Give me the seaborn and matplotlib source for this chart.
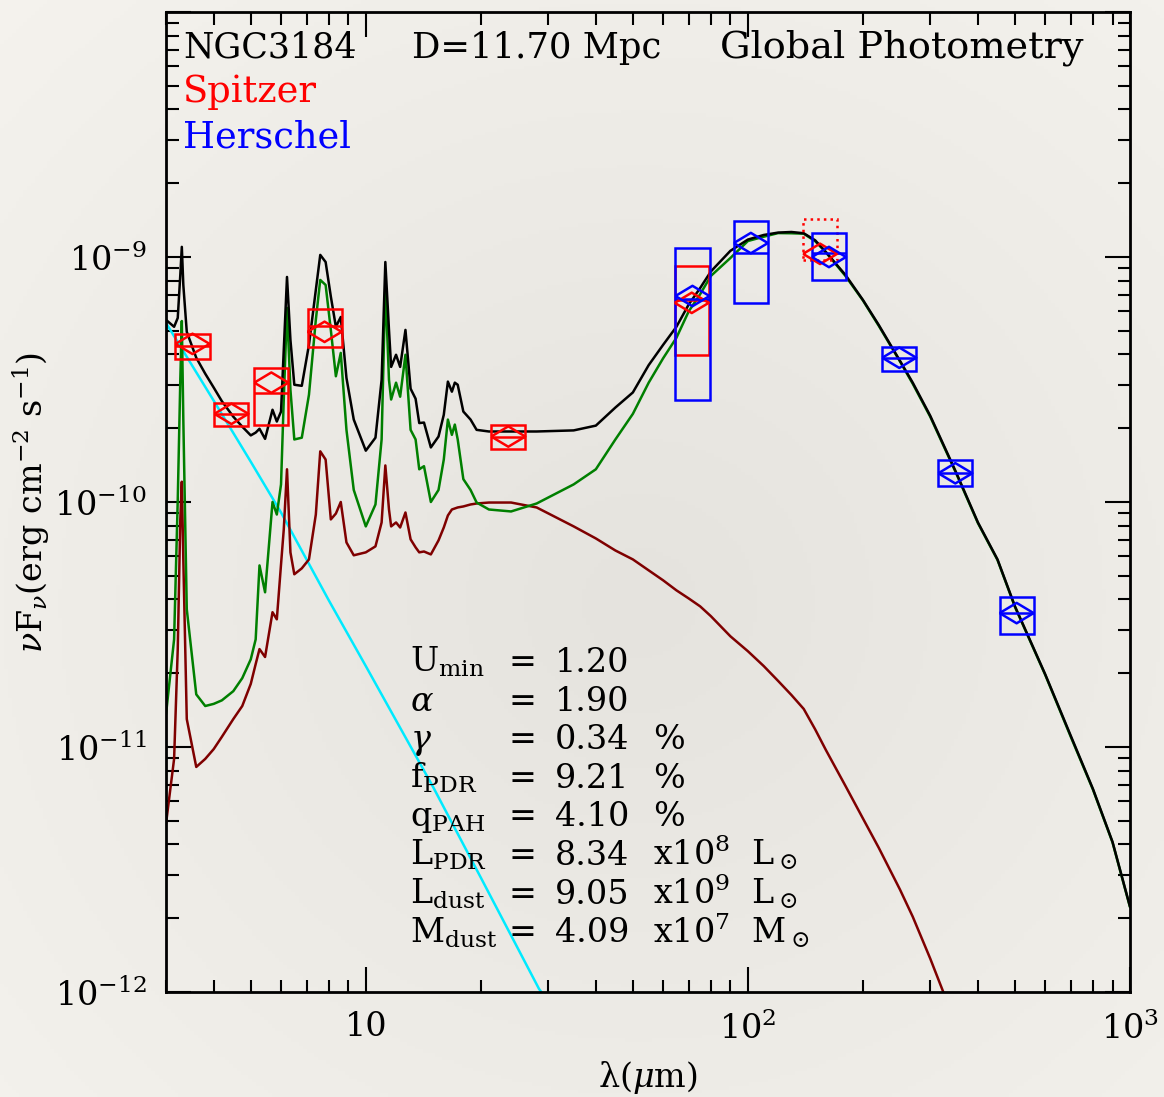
import numpy as np
import matplotlib
matplotlib.use("Agg")
import matplotlib.pyplot as plt
import seaborn as sns
from matplotlib.patches import Rectangle
from matplotlib.ticker import LogLocator, NullFormatter, FixedLocator, FixedFormatter

sns.set_style("ticks")
plt.rcParams["font.family"] = ["DejaVu Serif"]
plt.rcParams["mathtext.fontset"] = "dejavuserif"
plt.rcParams["text.color"] = "black"
plt.rcParams["axes.labelcolor"] = "black"
plt.rcParams["xtick.color"] = "black"
plt.rcParams["ytick.color"] = "black"

# ---------------- model spectra (wavelength in micron, nuFnu in erg cm^-2 s^-1) -------------
lam_model = [3.0, 3.15, 3.22, 3.27, 3.3, 3.33, 3.4, 3.6,
             3.8, 4.0, 4.2, 4.5, 4.75, 5.0, 5.15, 5.27,
             5.45, 5.7, 5.85, 6.0, 6.1, 6.22, 6.35, 6.5,
             6.8, 7.1, 7.4, 7.6, 7.85, 8.1, 8.35, 8.6,
             8.9, 9.3, 10.0, 10.6, 11.0, 11.25, 11.5, 11.65,
             12.0, 12.3, 12.7, 13.1, 13.5, 13.8, 14.2, 14.8,
             15.5, 16.0, 16.4, 16.8, 17.1, 17.4, 18.0, 18.8,
             19.5, 21, 24, 28, 35, 40, 45, 50,
             55, 60, 65, 70, 75, 80, 90, 100,
             110, 120, 130, 140, 150, 160, 180, 200,
             220, 250, 270, 300, 350, 400, 450, 500,
             600, 700, 800, 900, 1000]

f_total = [5.54e-10, 5.19e-10, 5.64e-10, 8.45e-10, 1.10e-9, 7.69e-10, 4.95e-10, 3.88e-10,
           3.34e-10, 2.93e-10, 2.58e-10, 2.23e-10, 2.03e-10, 1.87e-10, 1.92e-10, 1.99e-10,
           1.81e-10, 2.38e-10, 2.13e-10, 2.34e-10, 4.18e-10, 8.29e-10, 4.59e-10, 3.01e-10,
           2.98e-10, 4.38e-10, 7.34e-10, 1.02e-9, 9.54e-10, 6.90e-10, 5.19e-10, 5.69e-10,
           3.21e-10, 2.17e-10, 1.62e-10, 1.83e-10, 3.15e-10, 9.54e-10, 5.04e-10, 3.56e-10,
           3.99e-10, 3.56e-10, 5.04e-10, 2.90e-10, 2.64e-10, 2.10e-10, 2.11e-10, 1.67e-10,
           1.85e-10, 2.27e-10, 3.10e-10, 2.82e-10, 3.07e-10, 3.01e-10, 2.34e-10, 2.17e-10,
           1.97e-10, 1.94e-10, 1.94e-10, 1.94e-10, 1.96e-10, 2.05e-10, 2.43e-10, 2.80e-10,
           3.62e-10, 4.38e-10, 5.19e-10, 6.40e-10, 7.47e-10, 8.73e-10, 1.06e-9, 1.178e-9,
           1.23e-9, 1.258e-9, 1.265e-9, 1.25e-9, 1.17e-9, 1.048e-9, 8.45e-10, 6.68e-10,
           5.28e-10, 3.77e-10, 3.07e-10, 2.25e-10, 1.33e-10, 8.25e-11, 5.83e-11, 3.75e-11,
           1.98e-11, 1.11e-11, 6.74e-12, 4.10e-12, 2.23e-12]

f_diffuse = [1.36e-11, 2.75e-11, 1.02e-10, 3.15e-10, 5.48e-10, 2.17e-10, 3.65e-11, 1.64e-11,
             1.47e-11, 1.50e-11, 1.55e-11, 1.69e-11, 1.91e-11, 2.28e-11, 2.75e-11, 5.51e-11,
             4.28e-11, 1.00e-10, 8.89e-11, 1.18e-10, 2.62e-10, 6.20e-10, 2.87e-10, 1.80e-10,
             1.83e-10, 2.74e-10, 5.54e-10, 8.06e-10, 7.69e-10, 5.04e-10, 3.26e-10, 4.06e-10,
             1.97e-10, 1.12e-10, 7.95e-11, 9.77e-11, 1.80e-10, 7.69e-10, 3.15e-10, 2.62e-10,
             3.07e-10, 2.69e-10, 3.99e-10, 1.97e-10, 1.80e-10, 1.36e-10, 1.40e-10, 1.00e-10,
             1.12e-10, 1.49e-10, 2.17e-10, 1.88e-10, 2.07e-10, 1.80e-10, 1.24e-10, 1.12e-10,
             9.95e-11, 9.32e-11, 9.15e-11, 9.86e-11, 1.18e-10, 1.36e-10, 1.80e-10, 2.29e-10,
             3.07e-10, 3.86e-10, 4.68e-10, 6.00e-10, 7.05e-10, 8.37e-10, 9.91e-10, 1.162e-9,
             1.21e-9, 1.252e-9, 1.25e-9, 1.245e-9, 1.16e-9, 1.045e-9, 8.37e-10, 6.65e-10,
             5.24e-10, 3.75e-10, 3.04e-10, 2.23e-10, 1.32e-10, 8.20e-11, 5.80e-11, 3.73e-11,
             1.97e-11, 1.10e-11, 6.70e-12, 4.08e-12, 2.22e-12]

lam_pdr = lam_model[:lam_model.index(350) + 1]
f_pdr = [4.86e-12, 8.94e-12, 2.51e-11, 8.49e-11, 1.21e-10, 5.83e-11, 1.30e-11, 8.29e-12,
         8.94e-12, 9.81e-12, 1.10e-11, 1.30e-11, 1.47e-11, 1.81e-11, 2.18e-11, 2.51e-11,
         2.33e-11, 3.55e-11, 3.32e-11, 5.56e-11, 7.73e-11, 1.36e-10, 6.23e-11, 5.07e-11,
         5.36e-11, 5.83e-11, 8.89e-11, 1.61e-10, 1.49e-10, 8.49e-11, 8.97e-11, 1.00e-10,
         6.84e-11, 6.06e-11, 6.23e-11, 6.59e-11, 8.25e-11, 1.41e-10, 9.32e-11, 7.95e-11,
         8.25e-11, 7.87e-11, 9.06e-11, 7.04e-11, 6.53e-11, 6.23e-11, 6.28e-11, 6.11e-11,
         6.97e-11, 7.87e-11, 8.81e-11, 9.32e-11, 9.41e-11, 9.50e-11, 9.59e-11, 9.77e-11,
         9.86e-11, 9.95e-11, 9.95e-11, 9.50e-11, 7.95e-11, 7.10e-11, 6.34e-11, 5.83e-11,
         5.26e-11, 4.79e-11, 4.36e-11, 4.04e-11, 3.75e-11, 3.42e-11, 2.83e-11, 2.46e-11,
         2.14e-11, 1.86e-11, 1.63e-11, 1.43e-11, 1.18e-11, 9.72e-12, 6.94e-12, 5.11e-12,
         3.88e-12, 2.62e-12, 2.03e-12, 1.37e-12, 7.4e-13]

lam_stars = [3.0, 4.0, 5.0, 6.0, 8.0, 10.0, 15.0, 20.0, 28.4, 30.0]
f_stars = [5.38e-10, 2.59e-10, 1.46e-10, 9.06e-11, 3.97e-11, 2.14e-11, 6.87e-12, 2.93e-12,
           1.03e-12, 9.15e-13]

# ---------------- photometry ----------------
spitzer_lam = [3.52, 4.45, 5.66, 7.80, 23.6, 71.3]
spitzer_flux = [4.42e-10, 2.29e-10, 3.07e-10, 4.95e-10, 1.85e-10, 6.50e-10]
spitzer_lo = [3.85e-10, 2.05e-10, 2.07e-10, 4.30e-10, 1.64e-10, 3.99e-10]
spitzer_hi = [4.85e-10, 2.54e-10, 3.53e-10, 6.14e-10, 2.07e-10, 9.19e-10]
spitzer_model = [4.33e-10, 2.29e-10, 2.79e-10, 5.24e-10, 1.85e-10, 6.68e-10]

mips160_lam = [154.5]
mips160_flux = [1.03e-9]
mips160_lo = [9.72e-10]
mips160_hi = [1.43e-9]

herschel_lam = [71.6, 101.8, 163.0, 249.0, 349.0, 505.0]
herschel_flux = [6.93e-10, 1.14e-9, 1.00e-9, 3.88e-10, 1.31e-10, 3.52e-11]
herschel_lo = [2.62e-10, 6.50e-10, 8.05e-10, 3.43e-10, 1.16e-10, 2.88e-11]
herschel_hi = [1.09e-9, 1.40e-9, 1.25e-9, 4.30e-10, 1.48e-10, 4.08e-11]
herschel_model = [6.75e-10, 1.04e-9, 1.04e-9, 3.88e-10, 1.31e-10, 3.52e-11]

header_texts = ["NGC3184", "D=11.70 Mpc", "Global Photometry"]
stat_labels = [r"U$_{\rm min}$", r"$\alpha$", r"$\gamma$", r"f$_{\rm PDR}$",
               r"q$_{\rm PAH}$", r"L$_{\rm PDR}$", r"L$_{\rm dust}$", r"M$_{\rm dust}$"]
stat_values = ["1.20", "1.90", "0.34", "9.21", "4.10", "8.34", "9.05", "4.09"]
stat_units = ["", "", "%", "%", "%", r"x10$^8$  L$_\odot$", r"x10$^9$  L$_\odot$",
              r"x10$^7$  M$_\odot$"]

# ---------------- figure ----------------
W, H = 1164, 1097
fig = plt.figure(figsize=(W / 100, H / 100), dpi=100)

# paper-like background
bg = fig.add_axes([0, 0, 1, 1], zorder=-10)
yy, xx = np.mgrid[0:1:300j, 0:1:300j]
r = np.sqrt(((xx - 0.55) / 0.75) ** 2 + ((yy - 0.55) / 0.75) ** 2)
t = np.clip(r, 0, 1)
c_center = np.array([229, 227, 222]) / 255
c_edge = np.array([244, 242, 237]) / 255
img = c_center[None, None, :] * (1 - t[..., None]) + c_edge[None, None, :] * t[..., None]
bg.imshow(img, aspect="auto", extent=[0, 1, 0, 1])
bg.axis("off")

x0, x1, y0, y1 = 166, 1130, 12, 992
ax = fig.add_axes([x0 / W, 1 - y1 / H, (x1 - x0) / W, (y1 - y0) / H])
ax.set_facecolor("none")
ax.set_xscale("log")
ax.set_yscale("log")

lw = 1.8
sns.lineplot(x=lam_stars, y=f_stars, sort=False, estimator=None, color="#00eaff", lw=lw, ax=ax)
sns.lineplot(x=lam_pdr, y=f_pdr, sort=False, estimator=None, color="#7f0000", lw=lw, ax=ax)
sns.lineplot(x=lam_model, y=f_diffuse, sort=False, estimator=None, color="#007f00", lw=lw, ax=ax)
sns.lineplot(x=lam_model, y=f_total, sort=False, estimator=None, color="black", lw=lw, ax=ax)

half = 10 ** 0.0446
diamond = [(-1, 0), (0, 0.6), (1, 0), (0, -0.6), (-1, 0)]


def draw_points(lam, flux, lo, hi, model, color, ls="-"):
    lam = np.asarray(lam)
    for l, a, b in zip(lam, lo, hi):
        ax.add_patch(Rectangle((l / half, a), l * half - l / half, b - a, fill=False,
                               ec=color, lw=lw, ls=ls, zorder=6))
    if model is not None:
        ax.hlines(model, lam / half, lam * half, color=color, lw=lw, zorder=6)
    sns.scatterplot(x=lam, y=flux, marker=diamond, s=600, facecolor="none",
                    edgecolor=color, linewidth=lw, ax=ax, zorder=7)


draw_points(spitzer_lam, spitzer_flux, spitzer_lo, spitzer_hi, spitzer_model, "#ff0000")
draw_points(mips160_lam, mips160_flux, mips160_lo, mips160_hi, None, "#ff0000", ls=":")
draw_points(herschel_lam, herschel_flux, herschel_lo, herschel_hi, herschel_model, "#0000ff")

ax.set_xlim(3, 1000)
ax.set_ylim(1e-12, 1e-8)

# ticks
ax.xaxis.set_major_locator(FixedLocator([10, 100, 1000]))
ax.xaxis.set_major_formatter(FixedFormatter(["10", r"$10^2$", r"$10^3$"]))
ax.xaxis.set_minor_locator(LogLocator(base=10, subs=np.arange(2, 10), numticks=20))
ax.xaxis.set_minor_formatter(NullFormatter())
ax.yaxis.set_major_locator(FixedLocator([1e-12, 1e-11, 1e-10, 1e-9, 1e-8]))
ax.yaxis.set_major_formatter(FixedFormatter([r"$10^{-12}$", r"$10^{-11}$", r"$10^{-10}$",
                                             r"$10^{-9}$", ""]))
ax.yaxis.set_minor_locator(LogLocator(base=10, subs=np.arange(2, 10), numticks=20))
ax.yaxis.set_minor_formatter(NullFormatter())
ax.tick_params(which="both", direction="in", top=True, right=True, width=1.5, colors="black")
ax.tick_params(which="major", length=18, labelsize=24, pad=14)
ax.tick_params(which="minor", length=9)
for s in ax.spines.values():
    s.set_linewidth(2)
    s.set_color("black")

ax.set_xlabel(r"λ($\mu$m)", fontsize=24)
ax.set_ylabel(r"$\nu$F$_\nu$(erg cm$^{-2}$ s$^{-1}$)", fontsize=24)
ax.xaxis.set_label_coords(0.5, -0.068)
ax.yaxis.set_label_coords(-0.118, 0.5)


def ax_x(px):
    return (px - x0) / (x1 - x0)


def ax_y(py):
    return (y1 - py) / (y1 - y0)


# header texts
ax.text(ax_x(183), ax_y(58), header_texts[0], fontsize=25, transform=ax.transAxes,
        va="baseline")
ax.text(ax_x(412), ax_y(58), header_texts[1], fontsize=25.5, transform=ax.transAxes,
        va="baseline")
ax.text(ax_x(720), ax_y(58), header_texts[2], fontsize=27.5, transform=ax.transAxes,
        va="baseline")
ax.text(ax_x(183), ax_y(102), "Spitzer", fontsize=26.5, color="#ff0000",
        transform=ax.transAxes, va="baseline")
ax.text(ax_x(183), ax_y(147), "Herschel", fontsize=26.5, color="#0000ff",
        transform=ax.transAxes, va="baseline")

# parameter block
fs2 = 24
for i, (lab, val, unit) in enumerate(zip(stat_labels, stat_values, stat_units)):
    yb = ax_y(672 + i * 38.6)
    ax.text(ax_x(410), yb, lab, fontsize=fs2, transform=ax.transAxes, va="baseline")
    ax.text(ax_x(508), yb, "=", fontsize=fs2, transform=ax.transAxes, va="baseline")
    ax.text(ax_x(555), yb, val, fontsize=fs2, transform=ax.transAxes, va="baseline")
    if unit:
        ax.text(ax_x(653), yb, unit, fontsize=fs2, transform=ax.transAxes, va="baseline")

fig.savefig("out.png", dpi=100)
